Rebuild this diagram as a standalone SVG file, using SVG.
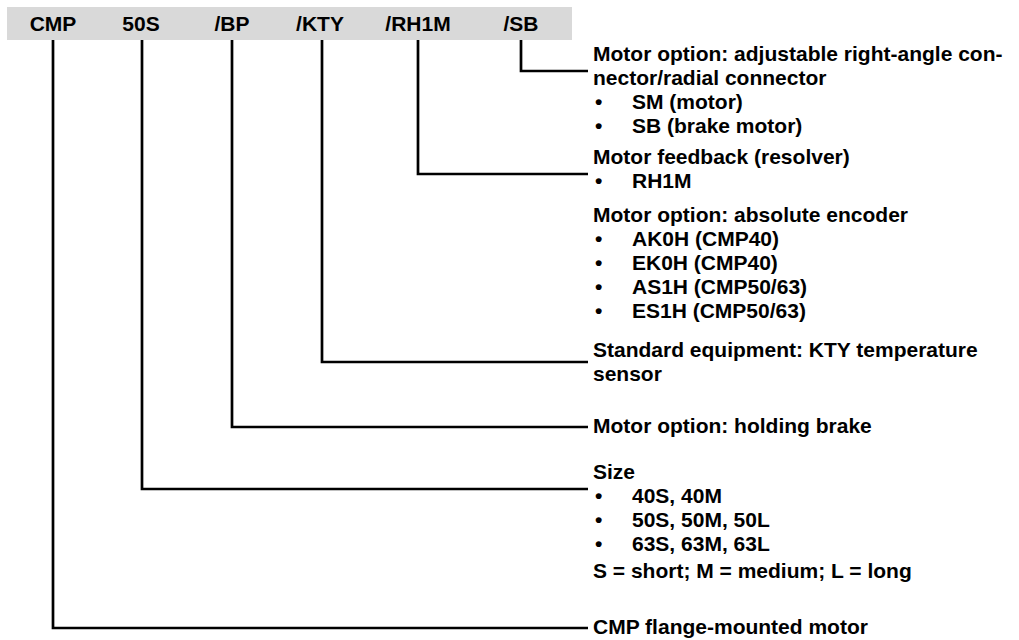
<svg xmlns="http://www.w3.org/2000/svg" width="1019" height="640" viewBox="0 0 1019 640">
<style>
text{font-family:"Liberation Sans",Arial,sans-serif;font-weight:bold;font-size:21px;fill:#000}
.code{text-anchor:middle}
.conn{fill:none;stroke:#000;stroke-width:2.7;stroke-linejoin:miter;stroke-linecap:butt}
</style>
<rect id="bar" x="7" y="7" width="565" height="33" fill="#d9d9d9"/>
<g id="codes">
<text class="code" x="53" y="31">CMP</text>
<text class="code" x="141" y="31">50S</text>
<text class="code" x="232" y="31">/BP</text>
<text class="code" x="320" y="31">/KTY</text>
<text class="code" x="418" y="31">/RH1M</text>
<text class="code" x="521" y="31">/SB</text>
</g>
<g id="connectors">
<polyline class="conn" points="521,40 521,71 588,71"/>
<polyline class="conn" points="418,40 418,174 588,174"/>
<polyline class="conn" points="322,40 322,362 588,362"/>
<polyline class="conn" points="232,40 232,427 588,427"/>
<polyline class="conn" points="142,40 142,489 588,489"/>
<polyline class="conn" points="53,40 53,628 588,628"/>
</g>
<g id="node-sb">
<text x="593" y="61">Motor option: adjustable right-angle con-</text>
<text x="593" y="85">nector/radial connector</text>
<text x="595" y="109">•</text><text x="632" y="109">SM (motor)</text>
<text x="595" y="133">•</text><text x="632" y="133">SB (brake motor)</text>
</g>
<g id="node-rh1m">
<text x="593" y="164">Motor feedback (resolver)</text>
<text x="595" y="188">•</text><text x="632" y="188">RH1M</text>
</g>
<g id="node-encoder">
<text x="593" y="222">Motor option: absolute encoder</text>
<text x="595" y="246">•</text><text x="632" y="246">AK0H (CMP40)</text>
<text x="595" y="270">•</text><text x="632" y="270">EK0H (CMP40)</text>
<text x="595" y="294">•</text><text x="632" y="294">AS1H (CMP50/63)</text>
<text x="595" y="318">•</text><text x="632" y="318">ES1H (CMP50/63)</text>
</g>
<g id="node-kty">
<text x="593" y="357">Standard equipment: KTY temperature</text>
<text x="593" y="381">sensor</text>
</g>
<g id="node-bp">
<text x="593" y="433">Motor option: holding brake</text>
</g>
<g id="node-size">
<text x="593" y="479">Size</text>
<text x="595" y="503">•</text><text x="632" y="503">40S, 40M</text>
<text x="595" y="527">•</text><text x="632" y="527">50S, 50M, 50L</text>
<text x="595" y="551">•</text><text x="632" y="551">63S, 63M, 63L</text>
<text x="593" y="578">S = short; M = medium; L = long</text>
</g>
<g id="node-cmp">
<text x="593" y="634">CMP flange-mounted motor</text>
</g>
</svg>
